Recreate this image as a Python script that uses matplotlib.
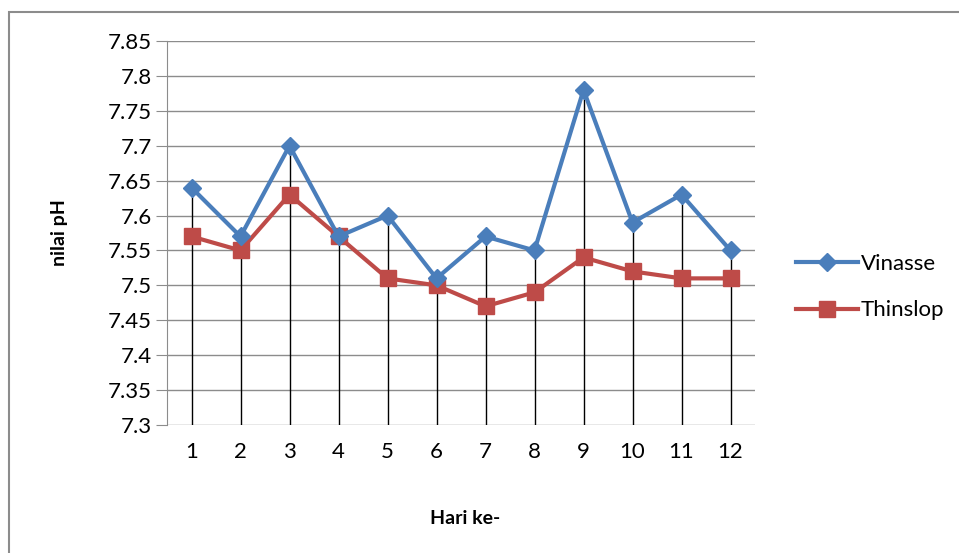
import matplotlib.pyplot as plt
from matplotlib.patches import Rectangle

# data
days = ['1', '2', '3', '4', '5', '6', '7', '8', '9', '10', '11', '12']
vinasse = [7.64, 7.57, 7.70, 7.57, 7.60, 7.51, 7.57, 7.55, 7.78, 7.59, 7.63, 7.55]
thinslop = [7.57, 7.55, 7.63, 7.57, 7.51, 7.50, 7.47, 7.49, 7.54, 7.52, 7.51, 7.51]
y_ticks = [7.3, 7.35, 7.4, 7.45, 7.5, 7.55, 7.6, 7.65, 7.7, 7.75, 7.8, 7.85]

plt.rcParams['font.family'] = ['Lato', 'DejaVu Sans']

fig = plt.figure(figsize=(9.59, 5.53), dpi=100)
fig.patches.append(Rectangle((9 / 959, -0.1), 1.2, 1 - 12 / 553 + 0.1,
                             transform=fig.transFigure, fill=False,
                             edgecolor='#8c8c8c', linewidth=1.5))
ax = fig.add_axes([167 / 959, 128 / 553, 588 / 959, 384 / 553])

x = list(range(len(days)))
grid_col = '#8c8c8c'
for yv in y_ticks:
    ax.axhline(yv, color=grid_col, linewidth=1.0, zorder=1)

# drop lines from highest point to axis
tops = [max(a, b) for a, b in zip(vinasse, thinslop)]
ax.vlines(x, y_ticks[0], tops, color='black', linewidth=1.0, zorder=2)

ax.plot(x, vinasse, color='#4a7ebb', linewidth=3, marker='D', ms=9,
        label='Vinasse', zorder=4)
ax.plot(x, thinslop, color='#be4b48', linewidth=3, marker='s', ms=12,
        label='Thinslop', zorder=3)

ax.set_xlim(-0.5, len(days) - 0.5)
ax.set_ylim(7.3, 7.85)
ax.set_xticks(x)
ax.set_xticklabels(days)
ax.set_yticks(y_ticks)
ax.set_yticklabels(['%g' % v for v in y_ticks])
ax.tick_params(axis='y', length=8, color=grid_col, labelsize=16, pad=3)
ax.tick_params(axis='x', length=0, labelsize=16, pad=12)
for s in ['top', 'right', 'bottom']:
    ax.spines[s].set_visible(False)
ax.spines['left'].set_color(grid_col)

fig.text(60 / 959, 1 - 233 / 553, 'nilai pH', rotation=90, ha='center',
         va='center', fontsize=14, fontweight='bold')
fig.text(465 / 959, 1 - 518 / 553, 'Hari ke-', ha='center', va='center',
         fontsize=14, fontweight='bold')

ax.legend(loc='center left', bbox_to_anchor=(776 / 959, 1 - 287 / 553),
          bbox_transform=fig.transFigure, frameon=False, fontsize=16,
          handlelength=2.8, handletextpad=0.1, labelspacing=1.2)

fig.savefig('out.png', dpi=100)
